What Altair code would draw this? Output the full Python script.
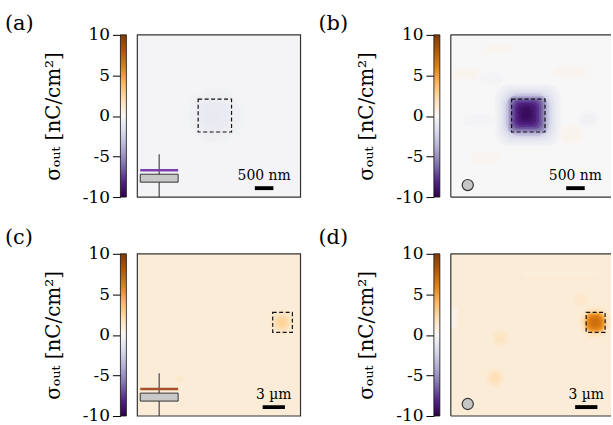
import altair as alt
import pandas as pd

SERIF = "DejaVu Serif"

# ---- colour map (PuOr: purple = negative, orange = positive) ----
CMAP_STOPS = [-10, -8, -6, -4, -2, 0, 2, 4, 6, 8, 10]
CMAP_COLORS = ["#2d004b", "#542788", "#8073ac", "#b2abd2", "#d8daeb", "#f7f7f7",
               "#fee0b6", "#fdb863", "#e08214", "#b35806", "#7f3b08"]
CBAR_TICKS = [-10, -5, 0, 5, 10]
CBAR_TITLE = "σₒᵤₜ  [nC/cm²]"

# ---- panels ----
PANELS = ["a", "b", "c", "d"]
FIELD_OF_VIEW = [4400, 4400, 22, 22]          # nm, nm, µm, µm
SCALE_BAR = [500, 500, 3, 3]
SCALE_TEXT = ["500 nm", "500 nm", "3 µm", "3 µm"]
BACKGROUND = [-0.2, 0.0, 1.0, 1.0]            # nC/cm²

feat_panel = (["a"] * 6 +
              ["b"] * 27 +
              ["c"] * 7 +
              ["d"] * 17)
feat_cx = ([2100, 2090, 2080, 2070, 2060, 2050] +
           [400, 400, 1290, 1290, 3250, 3250, 3250, 3250, 940, 940, 1100, 750, 3700, 3700,
            2080, 2080, 2075, 2070, 2070,
            2065, 2060, 2055, 2050, 2045, 2040, 2035, 2030] +
           [5.8, 19.55, 19.55, 19.5, 19.5, 19.5, 19.5] +
           [14.8, 0.4, 17.6, 6.7, 6.7, 6.0, 6.0,
            19.45, 19.45, 19.45, 19.45, 19.45, 19.45, 19.45, 19.45, 19.45, 19.45])
feat_cy = ([2200, 2190, 2180, 2170, 2160, 2150] +
           [1050, 1050, 380, 380, 1000, 1000, 2700, 2700, 3330, 3330, 1180, 2330, 2280, 2280,
            2180, 2180, 2175, 2170, 2170,
            2170, 2165, 2160, 2155, 2150, 2145, 2140, 2135] +
           [17.0, 9.3, 9.3, 9.3, 9.3, 9.3, 9.3] +
           [2.7, 8.6, 6.3, 11.4, 11.4, 16.8, 16.8,
            9.3, 9.3, 9.3, 9.3, 9.3, 9.3, 9.3, 9.3, 9.3, 9.3])
feat_rx = ([850, 700, 570, 450, 330, 200] +
           [420, 280, 440, 300, 520, 360, 380, 250, 440, 300, 320, 440, 280, 180,
            880, 800, 720, 650, 590,
            520, 480, 440, 390, 330, 270, 200, 130] +
           [0.5, 1.7, 1.4, 1.15, 0.95, 0.75, 0.5] +
           [5.0, 0.5, 0.9, 1.1, 0.6, 1.2, 0.7,
            2.1, 1.85, 1.6, 1.45, 1.3, 1.18, 1.05, 0.9, 0.7, 0.45])
feat_ry = ([850, 700, 570, 450, 330, 200] +
           [170, 100, 140, 80, 180, 110, 270, 170, 170, 100, 160, 160, 220, 130,
            840, 770, 700, 630, 575,
            510, 470, 435, 390, 340, 290, 230, 160] +
           [0.5, 1.7, 1.4, 1.15, 0.95, 0.75, 0.5] +
           [0.25, 1.5, 0.9, 1.1, 0.6, 1.2, 0.7,
            2.1, 1.85, 1.6, 1.45, 1.3, 1.18, 1.05, 0.9, 0.7, 0.45])
feat_val = ([-0.3, -0.45, -0.6, -0.75, -0.9, -1.0] +
            [0.15, 0.3, 0.15, 0.25, 0.15, 0.35, 0.15, 0.35, 0.15, 0.25, -0.2, -0.2, -0.2, -0.4,
             -0.4, -0.8, -1.3, -2.0, -3.0,
             -4.0, -5.0, -6.0, -7.0, -7.8, -8.5, -9.0, -9.4] +
            [1.3, 1.25, 1.5, 1.8, 2.1, 2.4, 2.6] +
            [0.8, 0.5, 1.3, 1.3, 1.6, 1.4, 1.9,
             1.4, 1.8, 2.4, 3.2, 4.2, 5.0, 5.7, 6.2, 6.6, 6.9])
feat_shape = (["round"] * 6 +
              ["round"] * 14 + ["mid"] * 5 + ["soft"] * 8 +
              ["round"] + ["mid"] * 6 +
              ["round"] * 7 + ["mid"] * 4 + ["soft"] * 6)

# ---- dashed regions of interest ----
roi_x0 = [1640, 1640, 18.25, 18.25]
roi_x1 = [2540, 2540, 20.9, 20.8]
roi_y0 = [1745, 1745, 7.95, 7.95]
roi_y1 = [2635, 2635, 10.65, 10.65]

# ---- annotation layout (fractions of the field of view) ----
BAR_LEFT = [0.72, 0.707, 0.768, 0.762]
BAR_TOP, BAR_BOTTOM, BAR_TEXT_Y = 0.933, 0.957, 0.896
WIRE_X, WIRE_TOP, GATE_Y = 0.134, 0.736, 0.834
SUB_X0, SUB_X1, SUB_Y0, SUB_Y1 = 0.018, 0.25, 0.859, 0.908
GATE_COLOR = {"a": "#7b3fad", "c": "#a4512c"}
TIP_X, TIP_Y = 0.104, 0.926
LABEL_DY = [-5, -5, -10, -10]
CORNER = {"round": 999, "mid": 14, "soft": 6}

IMG_W, IMG_H, CB_W, GAP_W = 164, 163, 6, 112

cscale = alt.Scale(domain=CMAP_STOPS, range=CMAP_COLORS, interpolate="rgb", clamp=True)

feats = pd.DataFrame({"panel": feat_panel, "cx": feat_cx, "cy": feat_cy, "rx": feat_rx,
                      "ry": feat_ry, "v": feat_val, "shape": feat_shape})
dummy = pd.DataFrame({"k": [0]})


def colorbar(i):
    df = pd.DataFrame({"lo": [CMAP_STOPS[0]], "hi": [CMAP_STOPS[-1]]})
    grad = {"gradient": "linear", "x1": 0, "y1": 1, "x2": 0, "y2": 0,
            "stops": [{"offset": (s - CMAP_STOPS[0]) / (CMAP_STOPS[-1] - CMAP_STOPS[0]), "color": c}
                      for s, c in zip(CMAP_STOPS, CMAP_COLORS)]}
    axis = alt.Axis(values=CBAR_TICKS, orient="left", title=CBAR_TITLE,
                    titleFont=SERIF, titleFontSize=20, titleFontWeight="normal",
                    titleColor="black", titlePadding=19,
                    labelFont=SERIF, labelFontSize=17, labelColor="black", labelPadding=3,
                    labelFlush=False, labelOverlap=False, labelExpr="'' + datum.value",
                    tickSize=8, tickColor="black", tickWidth=1, domain=False, grid=False)
    bar = alt.Chart(df).mark_rect(fill=grad, stroke="#111", strokeWidth=0.8).encode(
        x=alt.value(0), x2=alt.value("width"),
        y=alt.Y("lo:Q", scale=alt.Scale(domain=[CMAP_STOPS[0], CMAP_STOPS[-1]], nice=False, zero=False), axis=axis),
        y2="hi:Q")
    lab = alt.Chart(pd.DataFrame({"t": [f"({PANELS[i]})"]})).mark_text(
        align="left", baseline="alphabetic", font=SERIF, fontSize=21, color="black").encode(
        x=alt.value(-116), y=alt.value(LABEL_DY[i]), text="t:N")
    return alt.layer(bar, lab).properties(width=CB_W, height=IMG_H)


def image_panel(i):
    p = PANELS[i]
    ext = FIELD_OF_VIEW[i]
    cropped = p in ("b", "d")
    w = 161 if cropped else IMG_W
    xs = alt.Scale(domain=[0, ext * w / IMG_W], nice=False, zero=False)
    ys = alt.Scale(domain=[0, ext], reverse=True, nice=False, zero=False)

    def X(f):
        return alt.X(f, type="quantitative", scale=xs, axis=None)

    def Y(f):
        return alt.Y(f, type="quantitative", scale=ys, axis=None)

    color = alt.Color("v:Q", scale=cscale, legend=None)
    layers = []

    bg = pd.DataFrame({"x0": [0], "x1": [ext], "y0": [0], "y1": [ext], "v": [BACKGROUND[i]]})
    layers.append(alt.Chart(bg).mark_rect(clip=True).encode(
        x=X("x0"), x2="x1", y=Y("y0"), y2="y1", color=color))

    f = feats[feats.panel == p].copy()
    f["x0"] = f.cx - f.rx
    f["x1"] = f.cx + f.rx
    f["y0"] = f.cy - f.ry
    f["y1"] = f.cy + f.ry
    for shape in ("round", "mid", "soft"):
        sub = f[f["shape"] == shape][["x0", "x1", "y0", "y1", "v"]]
        if len(sub):
            layers.append(alt.Chart(sub).mark_rect(clip=True, cornerRadius=CORNER[shape]).encode(
                x=X("x0"), x2="x1", y=Y("y0"), y2="y1", color=color))

    roi = pd.DataFrame({"x0": [roi_x0[i]], "x1": [roi_x1[i]], "y0": [roi_y0[i]], "y1": [roi_y1[i]]})
    layers.append(alt.Chart(roi).mark_rect(filled=False, stroke="#111", strokeWidth=1.2,
                                           strokeDash=[4, 2.5]).encode(
        x=X("x0"), x2="x1", y=Y("y0"), y2="y1"))

    if not cropped:
        wire = pd.DataFrame({"x": [WIRE_X * ext], "y0": [WIRE_TOP * ext], "y1": [ext]})
        layers.append(alt.Chart(wire).mark_rule(color="#555", strokeWidth=1.3).encode(
            x=X("x"), y=Y("y0"), y2="y1"))
        sub = pd.DataFrame({"x0": [SUB_X0 * ext], "x1": [SUB_X1 * ext],
                            "y0": [SUB_Y0 * ext], "y1": [SUB_Y1 * ext]})
        layers.append(alt.Chart(sub).mark_rect(fill="#c8c8c8", stroke="#333", strokeWidth=1).encode(
            x=X("x0"), x2="x1", y=Y("y0"), y2="y1"))
        gate = pd.DataFrame({"x0": [SUB_X0 * ext], "x1": [SUB_X1 * ext], "y": [GATE_Y * ext]})
        layers.append(alt.Chart(gate).mark_rule(color=GATE_COLOR[p], strokeWidth=2.5).encode(
            x=X("x0"), x2="x1", y=Y("y")))
    else:
        tip = pd.DataFrame({"x": [TIP_X * ext], "y": [TIP_Y * ext]})
        layers.append(alt.Chart(tip).mark_circle(size=125, fill="#c6c6c6", stroke="#333",
                                                 strokeWidth=1.2, opacity=1).encode(
            x=X("x"), y=Y("y")))

    bx0 = BAR_LEFT[i] * ext
    bar = pd.DataFrame({"x0": [bx0], "x1": [bx0 + SCALE_BAR[i]],
                        "y0": [BAR_TOP * ext], "y1": [BAR_BOTTOM * ext]})
    layers.append(alt.Chart(bar).mark_rect(fill="black").encode(
        x=X("x0"), x2="x1", y=Y("y0"), y2="y1"))
    txt = pd.DataFrame({"x": [bx0 + SCALE_BAR[i] / 2], "y": [BAR_TEXT_Y * ext], "t": [SCALE_TEXT[i]]})
    layers.append(alt.Chart(txt).mark_text(font=SERIF, fontSize=14, align="center",
                                           baseline="alphabetic", color="black").encode(
        x=X("x"), y=Y("y"), text="t:N"))

    if not cropped:
        frame = pd.DataFrame({"x0": [0], "x1": [ext], "y0": [0], "y1": [ext]})
        layers.append(alt.Chart(frame).mark_rect(filled=False, stroke="#333", strokeWidth=1.2).encode(
            x=X("x0"), x2="x1", y=Y("y0"), y2="y1"))
    else:
        layers.append(alt.Chart(dummy).mark_rule(color="#333", strokeWidth=1.2).encode(
            x=alt.value(0), x2=alt.value("width"), y=alt.value(0)))
        layers.append(alt.Chart(dummy).mark_rule(color="#333", strokeWidth=1.2).encode(
            x=alt.value(0), x2=alt.value("width"), y=alt.value("height")))
        layers.append(alt.Chart(dummy).mark_rule(color="#333", strokeWidth=1.2).encode(
            x=alt.value(0), y=alt.value(0), y2=alt.value("height")))

    return alt.layer(*layers).properties(width=w, height=IMG_H)


def spacer():
    return alt.Chart(dummy).mark_point(opacity=0).encode(
        x=alt.value(0), y=alt.value(0)).properties(width=GAP_W, height=IMG_H)


items = [colorbar(0), image_panel(0), spacer(), colorbar(1), image_panel(1),
         colorbar(2), image_panel(2), spacer(), colorbar(3), image_panel(3)]

chart = alt.concat(*items, columns=5, spacing={"row": 57, "column": 11}, bounds="flush",
                   padding={"left": 4, "top": 11, "right": 0, "bottom": 0},
                   background="white"
                   ).configure_view(stroke="transparent")

chart.save("out.html", embed_options={"renderer": "svg", "actions": False})
